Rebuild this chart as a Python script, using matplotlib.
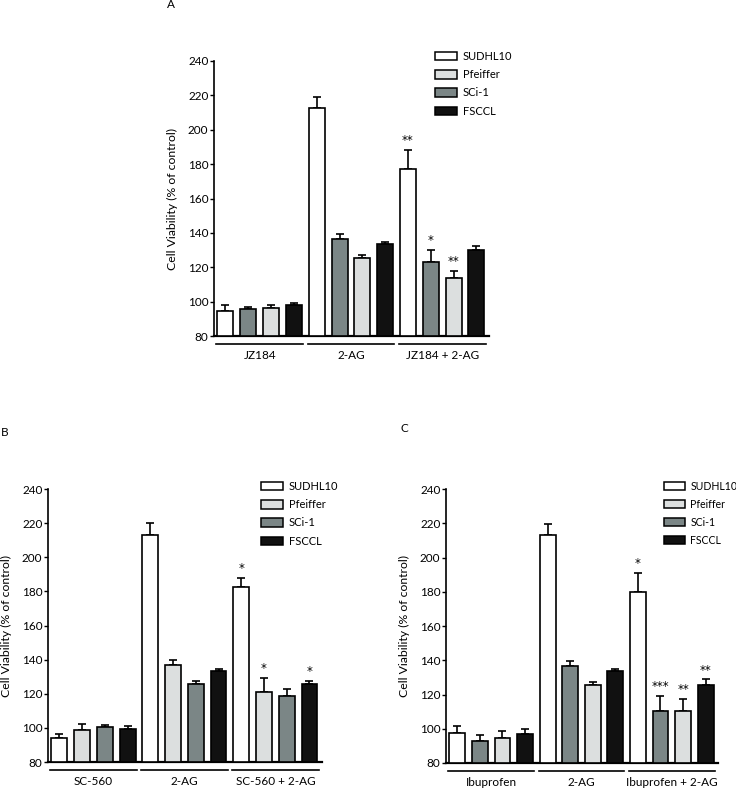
import numpy as np
import matplotlib.pyplot as plt
from matplotlib.patches import Patch

plt.rcParams['font.family'] = ['Lato', 'DejaVu Sans']

## Data (bar heights and upper error-bar ends, % of control)
cell_lines = ['SUDHL10', 'Pfeiffer', 'SCi-1', 'FSCCL']
line_colors = {'SUDHL10': '#ffffff', 'Pfeiffer': '#dcdfdf', 'SCi-1': '#7b8686', 'FSCCL': '#111111'}

# panel A
a_groups = ['JZ184', '2-AG', 'JZ184 + 2-AG']
a_order = ['SUDHL10', 'SCi-1', 'Pfeiffer', 'FSCCL']
a_vals = [94.4, 95.5, 96.3, 98.1, 212.8, 136.3, 125.4, 133.4, 177.1, 123.1, 113.8, 130.3]
a_tops = [98.1, 97.1, 98.1, 99.0, 219.2, 139.6, 127.4, 134.6, 188.3, 130.1, 118.1, 132.4]
a_stars = {8: '**', 9: '*', 10: '**'}

# panel B
b_groups = ['SC-560', '2-AG', 'SC-560 + 2-AG']
b_order = ['SUDHL10', 'Pfeiffer', 'SCi-1', 'FSCCL']
b_vals = [94.0, 98.5, 100.3, 99.1, 213.3, 136.7, 125.6, 133.6, 182.3, 121.3, 118.4, 125.8]
b_tops = [96.4, 102.2, 101.6, 101.4, 220.0, 140.0, 127.6, 134.8, 187.8, 129.5, 122.9, 127.6]
b_stars = {8: '*', 9: '*', 11: '*'}

# panel C
c_groups = ['Ibuprofen', '2-AG', 'Ibuprofen + 2-AG']
c_order = ['SUDHL10', 'SCi-1', 'Pfeiffer', 'FSCCL']
c_vals = [97.5, 92.6, 94.8, 97.1, 213.1, 136.6, 125.5, 133.5, 180.0, 110.2, 110.5, 125.7]
c_tops = [101.8, 96.5, 98.9, 99.6, 219.5, 139.7, 127.5, 134.7, 191.3, 119.1, 117.5, 128.8]
c_stars = {8: '*', 9: '***', 10: '**', 11: '**'}

yticks = [80, 100, 120, 140, 160, 180, 200, 220, 240]


def draw_panel(ax, groups, order, vals, tops, stars):
    n = len(vals)
    x = np.arange(n)
    cols = [line_colors[order[i % 4]] for i in range(n)]
    ax.bar(x, np.array(vals) - 80, bottom=80, width=0.7, color=cols,
           edgecolor='black', linewidth=1.2, zorder=3)
    err = np.array(tops) - np.array(vals)
    ax.errorbar(x, vals, yerr=[np.zeros(n), err], fmt='none', ecolor='black',
                elinewidth=1.2, capsize=3, capthick=1.2, zorder=2)
    for i, s in stars.items():
        ax.annotate(s, (x[i], tops[i]), xytext=(0, 2), textcoords='offset points',
                    ha='center', va='bottom', fontsize=8.5, family='DejaVu Sans')

    ax.set_xlim(-0.5, 11.55)
    ax.set_ylim(80, 240)
    ax.set_yticks(yticks)
    ax.tick_params(axis='y', length=3, width=1, labelsize=8.5, pad=1)
    ax.set_xticks([])
    for side in ['top', 'right']:
        ax.spines[side].set_visible(False)
    ax.spines['left'].set_linewidth(1.2)
    ax.spines['bottom'].set_linewidth(1.6)
    ax.set_ylabel('Cell Viability (% of control)', fontsize=8.8, labelpad=7)

    # group underlines and names below the axis
    trans = ax.get_xaxis_transform()
    for g, name in enumerate(groups):
        x0 = 4 * g - 0.4
        x1 = 4 * g + 3.4
        ax.plot([x0, x1], [-0.03, -0.03], color='black', lw=1.2,
                transform=trans, clip_on=False)
        ax.text((x0 + x1) / 2, -0.05, name, transform=trans, ha='center',
                va='top', fontsize=8.5)


fig = plt.figure(figsize=(7.36, 7.89), dpi=100)

ax_a = fig.add_axes([0.2908, 0.5741, 0.3736, 0.3486])
ax_b = fig.add_axes([0.0652, 0.0342, 0.3723, 0.3460])
ax_c = fig.add_axes([0.6060, 0.0330, 0.3696, 0.3470])

draw_panel(ax_a, a_groups, a_order, a_vals, a_tops, a_stars)
draw_panel(ax_b, b_groups, b_order, b_vals, b_tops, b_stars)
draw_panel(ax_c, c_groups, c_order, c_vals, c_tops, c_stars)

handles = [Patch(facecolor=line_colors[c], edgecolor='black', linewidth=1.1, label=c)
           for c in cell_lines]
for ax, lx, ly, fs in [(ax_a, 435, 51, 8), (ax_b, 261, 481, 8), (ax_c, 664, 481, 7.6)]:
    ax.legend(handles=handles, loc='upper left',
              bbox_to_anchor=(lx / 736, 1 - ly / 789), bbox_transform=fig.transFigure,
              frameon=False, fontsize=fs, borderpad=0, borderaxespad=0,
              handlelength=2.0, handleheight=0.8, handletextpad=0.5, labelspacing=0.65)

fig.text(171 / 736, 1 - 5 / 789, 'A', ha='center', va='center', fontsize=8.5)
fig.text(5 / 736, 1 - 432 / 789, 'B', ha='center', va='center', fontsize=8.5)
fig.text(404 / 736, 1 - 429 / 789, 'C', ha='center', va='center', fontsize=8.5)

plt.savefig('out.png', dpi=100)
